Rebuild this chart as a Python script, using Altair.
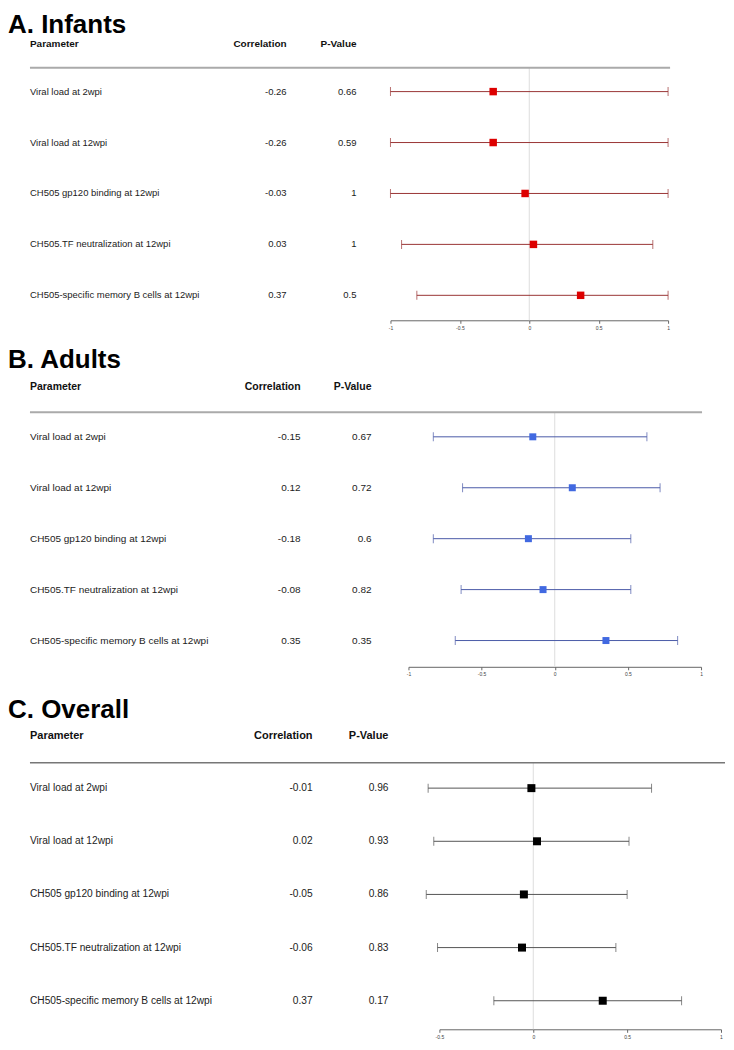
import altair as alt
import pandas as pd

params = [
    "Viral load at 2wpi",
    "Viral load at 12wpi",
    "CH505 gp120 binding at 12wpi",
    "CH505.TF neutralization at 12wpi",
    "CH505-specific memory B cells at 12wpi",
]
rows = [1, 2, 3, 4, 5]

infant_corr = [-0.26, -0.26, -0.03, 0.03, 0.37]
infant_p = [0.66, 0.59, 1, 1, 0.5]
infant_lo = [-1, -1, -1, -0.92, -0.81]
infant_hi = [1, 1, 1, 0.89, 1]

adult_corr = [-0.15, 0.12, -0.18, -0.08, 0.35]
adult_p = [0.67, 0.72, 0.6, 0.82, 0.35]
adult_lo = [-0.83, -0.63, -0.83, -0.64, -0.68]
adult_hi = [0.63, 0.72, 0.52, 0.52, 0.84]

overall_corr = [-0.01, 0.02, -0.05, -0.06, 0.37]
overall_p = [0.96, 0.93, 0.86, 0.83, 0.17]
overall_lo = [-0.56, -0.53, -0.57, -0.51, -0.21]
overall_hi = [0.63, 0.51, 0.50, 0.44, 0.79]

ticks_ab = [-1, -0.5, 0, 0.5, 1]
ticks_c = [-0.5, 0, 0.5, 1]

FONT = "Liberation Sans"


def panel(title, corr, p, lo, hi, cfg):
    df = pd.DataFrame({
        "row": rows,
        "param": params,
        "corr": corr,
        "corr_txt": [str(v) for v in corr],
        "p_txt": [str(v) for v in p],
        "lo": lo,
        "hi": hi,
    })
    xs = alt.Scale(domain=cfg["domain"], range=cfg["xrange"], nice=False, zero=False)
    ys = alt.Scale(domain=[1, 5], range=cfg["yrange"], nice=False, zero=False)
    ax = alt.Axis(values=cfg["ticks"], labelExpr="'' + datum.value", tickSize=3,
                  labelFontSize=5, labelColor="#444", domainColor="#666",
                  tickColor="#666", grid=False, title=None, labelPadding=2,
                  labelFlush=False, labelOverlap=False, labelFont=FONT)
    Y = alt.Y("row:Q", scale=ys, axis=None)
    base = alt.Chart(df)
    one = pd.DataFrame({"t": [title]})

    zero = alt.Chart(one).mark_rule(color="#dddddd", strokeWidth=1).encode(
        x=alt.datum(0, scale=xs, axis=ax),
        y=alt.value(cfg["line_y"]), y2=alt.value(cfg["h"]))
    hline = alt.Chart(one).mark_rule(color=cfg["hline_color"], strokeWidth=cfg["hline_w"]).encode(
        x=alt.value(22), x2=alt.value(cfg["line_end"]), y=alt.value(cfg["line_y"]))
    ci = base.mark_rule(color=cfg["ci_color"], strokeWidth=1).encode(
        x=alt.X("lo:Q", scale=xs, axis=ax), x2="hi:Q", y=Y)
    cap_lo = base.mark_tick(orient="vertical", size=9, thickness=1, color=cfg["ci_color"]).encode(
        x=alt.X("lo:Q", scale=xs, axis=ax), y=Y)
    cap_hi = base.mark_tick(orient="vertical", size=9, thickness=1, color=cfg["ci_color"]).encode(
        x=alt.X("hi:Q", scale=xs, axis=ax), y=Y)
    pts = base.mark_square(size=cfg["sq"], filled=True, opacity=1, color=cfg["pt_color"]).encode(
        x=alt.X("corr:Q", scale=xs, axis=ax), y=Y)
    lab = base.mark_text(align="left", baseline="middle", font=FONT, fontSize=cfg["fs"], color="#222").encode(
        x=alt.value(22), y=Y, text="param:N")
    ctxt = base.mark_text(align="right", baseline="middle", font=FONT, fontSize=cfg["fs"], color="#222").encode(
        x=alt.value(cfg["corr_x"]), y=Y, text="corr_txt:N")
    ptxt = base.mark_text(align="right", baseline="middle", font=FONT, fontSize=cfg["fs"], color="#222").encode(
        x=alt.value(cfg["p_x"]), y=Y, text="p_txt:N")
    ttl = alt.Chart(one).mark_text(align="left", baseline="top", font=FONT, fontSize=26,
                                    fontWeight="bold", color="#000").encode(
        x=alt.value(0), y=alt.value(cfg["title_y"]), text="t:N")
    hdr = []
    for txt, xpos, al in [("Parameter", 22, "left"), ("Correlation", cfg["corr_x"], "right"),
                          ("P-Value", cfg["p_x"], "right")]:
        hdr.append(alt.Chart(pd.DataFrame({"t": [txt]})).mark_text(
            align=al, baseline="alphabetic", font=FONT, fontSize=cfg["hfs"], fontWeight="bold",
            color="#111").encode(x=alt.value(xpos), y=alt.value(cfg["hdr_y"]), text="t:N"))
    return alt.layer(zero, hline, ci, cap_lo, cap_hi, pts, lab, ctxt, ptxt, ttl, *hdr).properties(
        width=718, height=cfg["h"])


cfgA = dict(domain=[-1, 1], xrange=[383, 661], yrange=[83, 287], ticks=ticks_ab, h=312,
            line_y=59, line_end=663, hline_color="#aaaaaa", hline_w=2, title_y=3, hdr_y=38.5,
            corr_x=279, p_x=349, fs=9.5, hfs=10, sq=56, ci_color="#9a3535", pt_color="#dd0000")
cfgB = dict(domain=[-1, 1], xrange=[401, 694], yrange=[116.7, 320.7], ticks=ticks_ab, h=347,
            line_y=92, line_end=695, hline_color="#aaaaaa", hline_w=2, title_y=27, hdr_y=69.4,
            corr_x=293, p_x=364, fs=10, hfs=10.5, sq=49, ci_color="#4a5aa8", pt_color="#4169e1")
cfgC = dict(domain=[-0.5, 1], xrange=[432, 714], yrange=[121.5, 334.4], ticks=ticks_c, h=363,
            line_y=96, line_end=718, hline_color="#777777", hline_w=1.5, title_y=30, hdr_y=72.3,
            corr_x=305, p_x=381, fs=10.2, hfs=11, sq=64, ci_color="#555555", pt_color="#000000")

pA = panel("A. Infants", infant_corr, infant_p, infant_lo, infant_hi, cfgA)
pB = panel("B. Adults", adult_corr, adult_p, adult_lo, adult_hi, cfgB)
pC = panel("C. Overall", overall_corr, overall_p, overall_lo, overall_hi, cfgC)

chart = alt.vconcat(pA, pB, pC, spacing=0, bounds="flush").properties(padding=0).resolve_scale(
    x="independent", y="independent").configure_view(stroke=None)

chart.save("out.html", embed_options={"renderer": "svg", "actions": False})
